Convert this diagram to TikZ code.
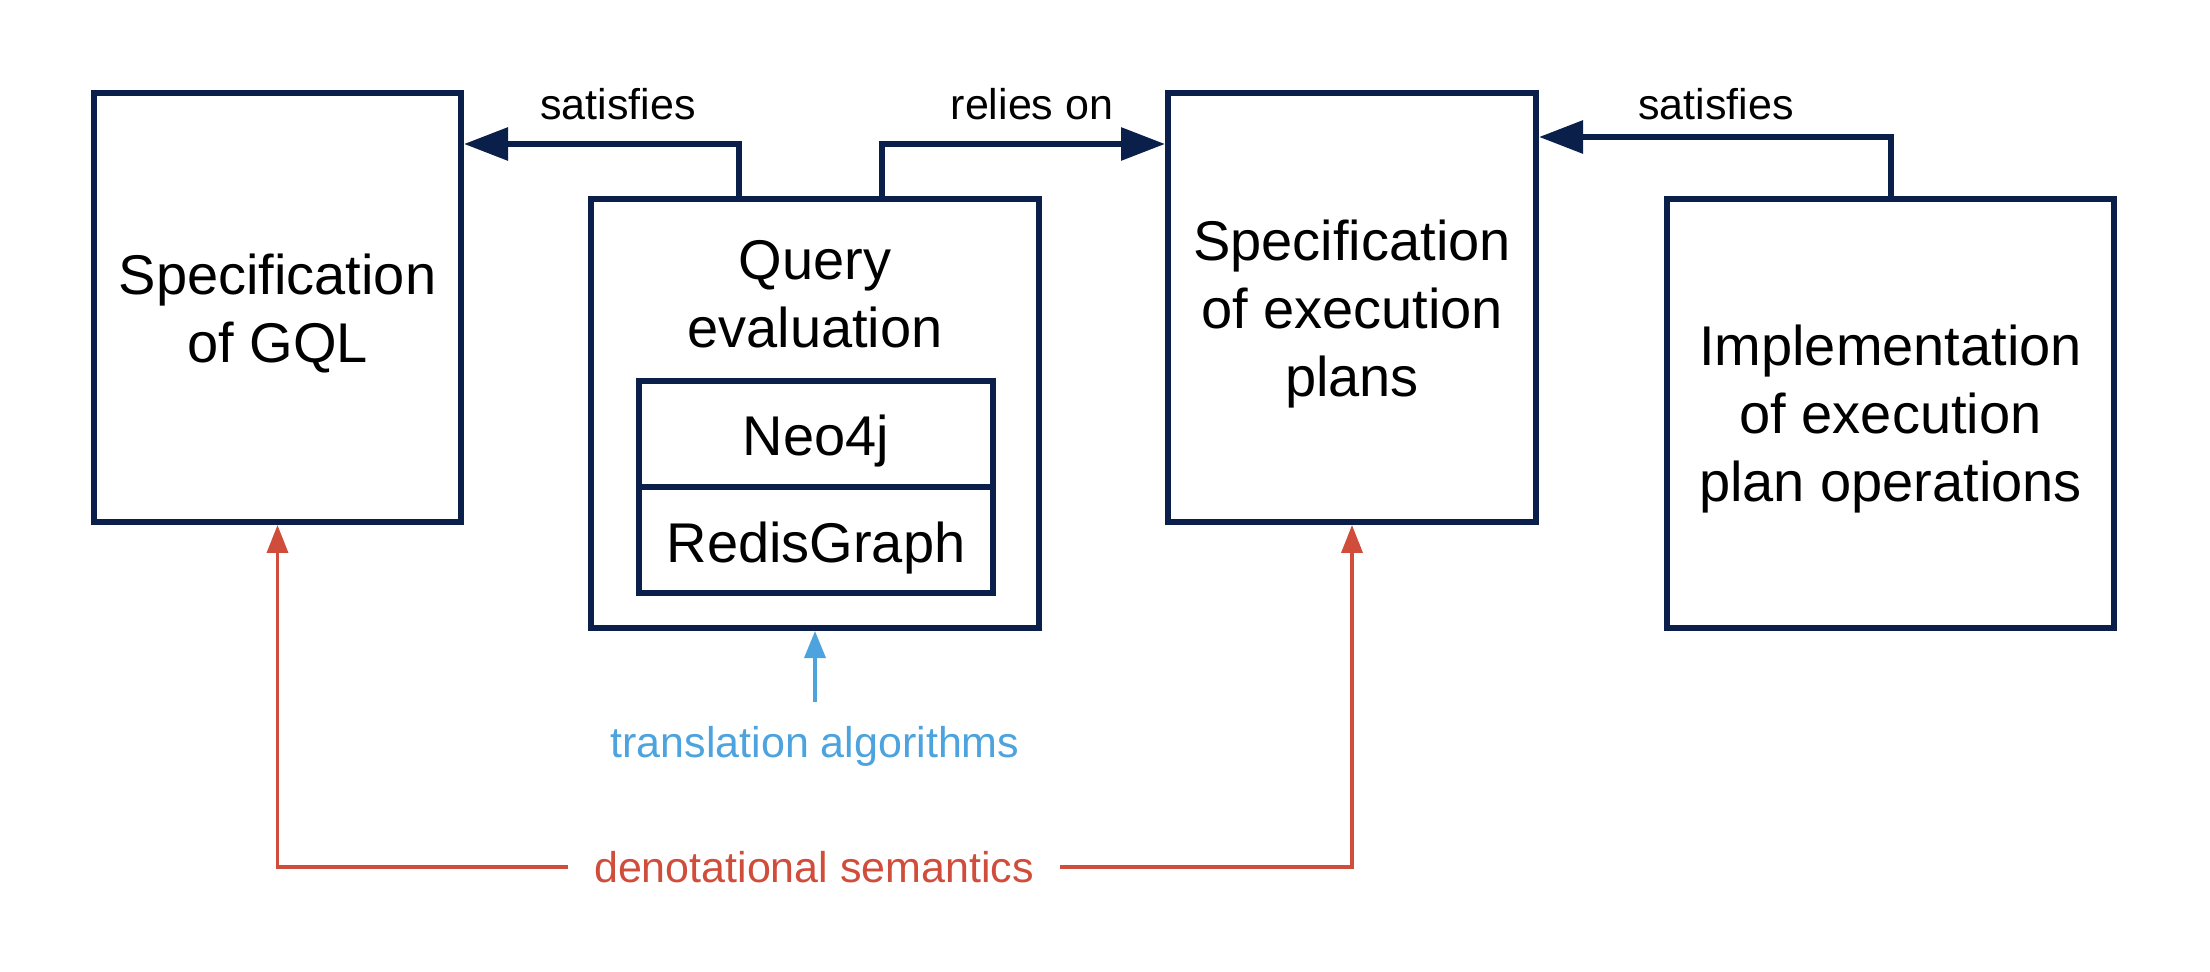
\documentclass[tikz,border=0pt]{standalone}
\usepackage{fontspec}
\setmainfont{Liberation Sans}
\usetikzlibrary{arrows.meta,calc}
\definecolor{navy}{RGB}{11,31,75}
\definecolor{dred}{RGB}{209,77,59}
\definecolor{lblue}{RGB}{76,163,221}
\newcommand\bigfnt{\fontsize{28pt}{34pt}\selectfont}
\newcommand\lblfnt{\fontsize{21.5pt}{26pt}\selectfont}
\begin{document}
\begin{tikzpicture}[x=0.5pt,y=-0.5pt,
  box/.style={draw=navy,line width=3pt,minimum height=214.5pt,inner sep=0pt},
  boxtext/.style={inner sep=0pt,align=center,font=\bigfnt},
  cell/.style={draw=navy,line width=3pt,minimum width=177pt,minimum height=53pt,inner sep=0pt,font=\bigfnt,text height=25pt,text depth=3pt},
  lbl/.style={inner sep=0pt,font=\lblfnt},
  navyarrow/.style={draw=navy,line width=3pt,-{Triangle[length=22pt,width=16pt]}},
  redarrow/.style={draw=dred,line width=1.8pt,-{Triangle[length=14pt,width=10.5pt]}},
  bluearrow/.style={draw=lblue,line width=1.8pt,-{Triangle[length=13.5pt,width=10.5pt]}}
]
\useasboundingbox (0,0) rectangle (2210,972);
% boxes
\node[box,minimum width=183.5pt] (gql) at (277.5,307.5) {};
\node[boxtext] (gqltext) at (277.5,314) {Specification\\of GQL};
\node[box,minimum width=224pt] (qe) at (815,413.5) {};
\node[boxtext] (qtext) at (815,294) {Query\\evaluation};
\node[cell] (neo) at (816,434) {Neo4j};
\node[cell] (redis) at (816,540) {RedisGraph};
\node[box,minimum width=184pt] (plans) at (1352,307.5) {};
\node[boxtext] (planstext) at (1352,314) {Specification\\of execution\\plans};
\node[box,minimum width=223.5pt] (impl) at (1890.5,413.5) {};
\node[boxtext] (impltext) at (1890.5,419) {Implementation\\of execution\\plan operations};
% labels
\node[lbl] (sat1) at (618,104) {satisfies};
\node[lbl] (rel) at (1032,104) {relies on};
\node[lbl] (sat2) at (1716,104) {satisfies};
\node[lbl,text=lblue] (talg) at (815,746) {translation algorithms};
\node[lbl,text=dred,inner xsep=13pt] (den) at (814,867) {denotational semantics};
% connector points
\coordinate (a1) at ($(qe.north west)+(151,0)$);
\coordinate (a1e) at ($(gql.north east)+(0,54)$);
\coordinate (a2) at ($(qe.north west)+(294,0)$);
\coordinate (a2e) at ($(plans.north west)+(0,54)$);
\coordinate (a3e) at ($(plans.north east)+(0,47)$);
\coordinate (b0) at ($(talg.north)+(0,-24)$);
% connectors
\draw[navyarrow] (a1) |- (a1e);
\draw[navyarrow] (a2) |- (a2e);
\draw[navyarrow] (impl.north) |- (a3e);
\draw[bluearrow] (b0) -- (qe.south);
\draw[redarrow] (den.west) -| (gql.south);
\draw[redarrow] (den.east) -| (plans.south);
\end{tikzpicture}
\end{document}
